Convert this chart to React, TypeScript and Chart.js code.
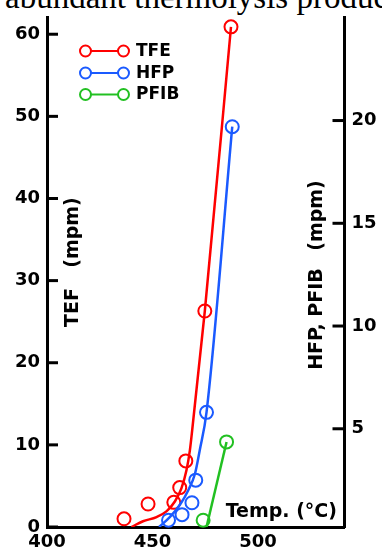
import React, { useEffect, useRef } from "react";
import { Chart, registerables } from "chart.js";

Chart.register(...registerables);

// Tick labels
const X_TICKS = [400, 450, 500];
const TEF_TICKS = [0, 10, 20, 30, 40, 50, 60];
const RIGHT_TICKS = [5, 10, 15, 20];

// TFE (left axis, mpm) measured points and fitted curve
const TFE_T = [436.5, 447.9, 460.1, 462.9, 465.8, 474.8, 487.2];
const TFE_V = [1.0, 2.8, 3.0, 4.8, 8.05, 26.3, 60.9];
const TFE_FIT_T = [440, 445.5, 451.9, 456.6, 460.6, 463.7, 466.1, 467.7, 468.8, 474.8, 487.2];
const TFE_FIT_V = [0, 0.7, 1.2, 1.9, 3.1, 4.7, 6.9, 9.3, 11.75, 26.3, 60.9];

// HFP (right axis, mpm)
const HFP_T = [457.6, 464.0, 468.7, 470.5, 475.6, 487.8];
const HFP_V = [0.55, 0.82, 1.4, 2.5, 5.8, 19.7];
const HFP_FIT_T = [453.1, 458.2, 463.0, 466.9, 470.1, 472.4, 475.6, 487.8];
const HFP_FIT_V = [0.22, 0.7, 1.3, 2.0, 2.8, 3.96, 5.8, 19.7];

// PFIB (right axis, mpm)
const PFIB_T = [474.0, 485.1];
const PFIB_V = [0.55, 4.36];
const PFIB_FIT_T = [475.6, 485.1];
const PFIB_FIT_V = [0.22, 4.36];

const SERIES_NAMES = ["TFE", "HFP", "PFIB"];
const COLORS = ["#ff0000", "#1a5aff", "#22c022"];

const LEFT_TITLE = ["TEF", "(mpm)"];
const RIGHT_TITLE = ["HFP, PFIB", "(mpm)"];
const X_TITLE = "Temp. (\u00B0C)";

const FONT = "DejaVu Sans";

const zip = (xs: number[], ys: number[]) => xs.map((x, i) => ({ x, y: ys[i] }));

const decorPlugin = {
  id: "decor",
  afterDraw(chart: any) {
    const ctx = chart.ctx as CanvasRenderingContext2D;
    const yL = chart.scales.yL;
    const yR = chart.scales.yR;
    ctx.save();
    // inward tick marks
    ctx.strokeStyle = "#000";
    ctx.lineWidth = 3;
    ctx.lineCap = "butt";
    for (const t of yL.ticks) {
      const y = yL.getPixelForValue(t.value);
      ctx.beginPath();
      ctx.moveTo(yL.right, y);
      ctx.lineTo(yL.right + 11, y);
      ctx.stroke();
    }
    for (const t of yR.ticks) {
      const y = yR.getPixelForValue(t.value);
      ctx.beginPath();
      ctx.moveTo(yR.left - 12, y);
      ctx.lineTo(yR.left, y);
      ctx.stroke();
    }

    // legend
    const rows = [51, 73, 94.5];
    ctx.font = `bold 17px "${FONT}"`;
    ctx.textBaseline = "middle";
    ctx.textAlign = "left";
    SERIES_NAMES.forEach((name, i) => {
      const y = rows[i];
      const x1 = 85.5;
      const x2 = 123.5;
      const r = 5.5;
      ctx.strokeStyle = COLORS[i];
      ctx.lineWidth = 2;
      ctx.beginPath();
      ctx.moveTo(x1 + r, y);
      ctx.lineTo(x2 - r, y);
      ctx.stroke();
      ctx.beginPath();
      ctx.arc(x1, y, r, 0, Math.PI * 2);
      ctx.stroke();
      ctx.beginPath();
      ctx.arc(x2, y, r, 0, Math.PI * 2);
      ctx.stroke();
      ctx.fillStyle = "#000";
      ctx.fillText(name, 136, y + 0.5);
    });

    // rotated axis titles inside plot
    ctx.font = `bold 19px "${FONT}"`;
    ctx.fillStyle = "#000";
    ctx.textAlign = "center";
    ctx.textBaseline = "middle";
    const rot = (text: string, x: number, y: number) => {
      ctx.save();
      ctx.translate(x, y);
      ctx.rotate(-Math.PI / 2);
      ctx.fillText(text, 0, 0);
      ctx.restore();
    };
    rot(LEFT_TITLE[0], 73, 307.5);
    rot(LEFT_TITLE[1], 73, 232.5);
    rot(RIGHT_TITLE[0], 317, 319);
    rot(RIGHT_TITLE[1], 317, 215.5);

    // x title
    ctx.textAlign = "right";
    ctx.textBaseline = "alphabetic";
    ctx.fillText(X_TITLE, 337, 516.5);
    ctx.restore();
  },
};

export default function App() {
  const ref = useRef<HTMLCanvasElement>(null);

  useEffect(() => {
    if (!ref.current) return;
    const tickFont = { family: FONT, size: 18, weight: "bold" as const, lineHeight: 1.2 };
    const lineDs = (label: string, xs: number[], ys: number[], c: string, axis: string) => ({
      label,
      data: zip(xs, ys),
      yAxisID: axis,
      showLine: true,
      borderColor: c,
      borderWidth: 2.5,
      pointRadius: 0,
      cubicInterpolationMode: "monotone" as const,
      fill: false,
    });
    const ptDs = (label: string, xs: number[], ys: number[], c: string, axis: string) => ({
      label,
      data: zip(xs, ys),
      yAxisID: axis,
      showLine: false,
      borderColor: c,
      backgroundColor: "rgba(0,0,0,0)",
      pointBorderColor: c,
      pointBackgroundColor: "rgba(0,0,0,0)",
      pointRadius: 6.5,
      pointBorderWidth: 2,
      clip: false as const,
    });

    const chart = new Chart(ref.current, {
      type: "scatter",
      data: {
        datasets: [
          lineDs("PFIB fit", PFIB_FIT_T, PFIB_FIT_V, COLORS[2], "yR"),
          ptDs("PFIB", PFIB_T, PFIB_V, COLORS[2], "yR"),
          lineDs("HFP fit", HFP_FIT_T, HFP_FIT_V, COLORS[1], "yR"),
          ptDs("HFP", HFP_T, HFP_V, COLORS[1], "yR"),
          lineDs("TFE fit", TFE_FIT_T, TFE_FIT_V, COLORS[0], "yL"),
          ptDs("TFE", TFE_T, TFE_V, COLORS[0], "yL"),
        ] as any,
      },
      options: {
        responsive: false,
        animation: false,
        layout: { padding: { top: 14, left: 0, right: 0, bottom: 0 } },
        plugins: {
          legend: { display: false },
          tooltip: { enabled: false },
          title: { display: false },
        },
        scales: {
          x: {
            type: "linear",
            position: "bottom",
            min: 400,
            max: 541,
            afterBuildTicks: (s: any) => {
              s.ticks = X_TICKS.map((v) => ({ value: v }));
            },
            afterFit: (s: any) => {
              s.height = 24;
            },
            grid: { display: false, drawTicks: false, drawOnChartArea: false },
            border: { display: true, color: "#000", width: 3 },
            ticks: {
              color: "#000",
              font: tickFont,
              padding: 5,
              maxRotation: 0,
              autoSkip: false,
              callback: (v: any) => String(v),
            },
          },
          yL: {
            type: "linear",
            position: "left",
            min: 0,
            max: 62,
            afterBuildTicks: (s: any) => {
              s.ticks = TEF_TICKS.map((v) => ({ value: v }));
            },
            afterFit: (s: any) => {
              s.width = 47;
            },
            grid: { display: false, drawTicks: false, drawOnChartArea: false },
            border: { display: true, color: "#000", width: 3 },
            ticks: {
              color: "#000",
              font: tickFont,
              padding: 7,
              autoSkip: false,
              callback: (v: any) => String(v),
            },
          },
          yR: {
            type: "linear",
            position: "right",
            min: 0.22,
            max: 25,
            afterBuildTicks: (s: any) => {
              s.ticks = RIGHT_TICKS.map((v) => ({ value: v }));
            },
            afterFit: (s: any) => {
              s.width = 37.5;
            },
            grid: { display: false, drawTicks: false, drawOnChartArea: false },
            border: { display: true, color: "#000", width: 3 },
            ticks: {
              color: "#000",
              font: tickFont,
              padding: 7,
              autoSkip: false,
              callback: (v: any) => String(v),
            },
          },
        },
      },
      plugins: [decorPlugin],
    });
    return () => chart.destroy();
  }, []);

  return (
    <div
      style={{
        position: "absolute",
        left: 0,
        top: 0,
        width: 382,
        height: 551,
        overflow: "hidden",
        background: "#fff",
      }}
    >
      <div
        style={{
          position: "absolute",
          left: 5,
          top: -19,
          fontFamily: '"Liberation Serif", serif',
          fontSize: 33,
          lineHeight: "33px",
          whiteSpace: "nowrap",
          color: "#000",
        }}
      >
        abundant thermolysis products
      </div>
      <canvas
        ref={ref}
        width={382}
        height={551}
        style={{ position: "absolute", left: 0, top: 0, width: 382, height: 551 }}
      />
    </div>
  );
}
